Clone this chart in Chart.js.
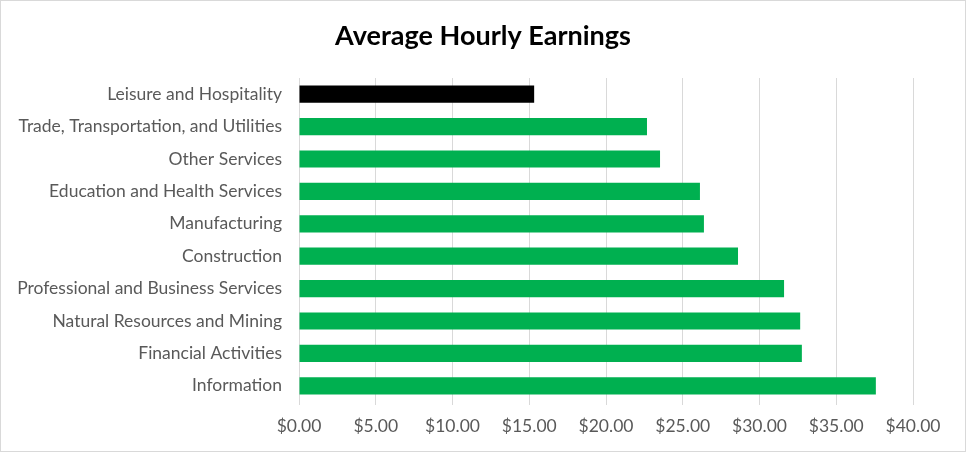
<!DOCTYPE html>
<html>
<head>
<meta charset="utf-8">
<script src="https://cdn.jsdelivr.net/npm/chart.js@4"></script>
<style>
	html, body { margin: 0; padding: 0; background: #fff; }
	#wrap { width: 966px; height: 452px; position: relative; }
</style>
</head>
<body>
<div id="wrap"><canvas id="earningsChart" width="966" height="452"></canvas></div>
<script>
var industries = [
	"Leisure and Hospitality",
	"Trade, Transportation, and Utilities",
	"Other Services",
	"Education and Health Services",
	"Manufacturing",
	"Construction",
	"Professional and Business Services",
	"Natural Resources and Mining",
	"Financial Activities",
	"Information"
];
var earnings = [15.32, 22.67, 23.52, 26.12, 26.38, 28.6, 31.6, 32.65, 32.76, 37.58];
var highlight = "Leisure and Hospitality";

var barColors = industries.map((name) => name == highlight ? "#000000" : "#00b050");

// thin grey frame round the whole picture
const framePlugin = {
	id: "frame",
	afterDraw(chart) {
		let ctx = chart.ctx;
		ctx.save();
		ctx.strokeStyle = "#d9d9d9";
		ctx.lineWidth = 1;
		ctx.strokeRect(0.5, 0.5, chart.width - 1, chart.height - 1);
		ctx.restore();
	}
};

const ctxEarnings = document.getElementById("earningsChart").getContext("2d");
const earningsChart = new Chart(ctxEarnings,
	{
		type: "bar",
		data: {
			labels: industries,
			datasets: [{
				label: "Average Hourly Earnings",
				data: earnings,
				backgroundColor: barColors,
				borderWidth: 0,
				barPercentage: 0.53,
				categoryPercentage: 1
			}]
		},
		options: {
			indexAxis: "y",
			responsive: false,
			animation: false,
			layout: {
				padding: 0
			},
			scales: {
				x: {
					min: 0,
					max: 40,
					ticks: {
						stepSize: 5,
						color: "#595959",
						padding: 11,
						font: { family: "Lato", size: 17.5 },
						callback: (v) => "$" + Number(v).toFixed(2)
					},
					grid: {
						color: "#d9d9d9",
						lineWidth: 1,
						tickLength: 3,
						drawTicks: true
					},
					border: { display: false },
					afterFit(scale) { scale.height = 50; }
				},
				y: {
					ticks: {
						color: "#595959",
						padding: 17,
						autoSkip: false,
						font: { family: "Lato", size: 17.5 }
					},
					grid: { display: false, drawTicks: false },
					border: { display: true, color: "#d9d9d9" },
					afterFit(scale) { scale.width = 299; }
				},
				// empty strip on the right so the title stays centred on the page
				rightGap: {
					type: "category",
					position: "right",
					ticks: { display: false },
					grid: { display: false, drawTicks: false },
					border: { display: false },
					afterFit(scale) { scale.width = 53; }
				}
			},
			plugins: {
				legend: { display: false },
				tooltip: { enabled: false },
				title: {
					display: true,
					text: "Average Hourly Earnings",
					color: "#000000",
					font: { family: "Lato", size: 27, weight: "bold" },
					padding: { top: 19.8, bottom: 25.8 }
				}
			}
		},
		plugins: [framePlugin]
	}
);
</script>
</body>
</html>
